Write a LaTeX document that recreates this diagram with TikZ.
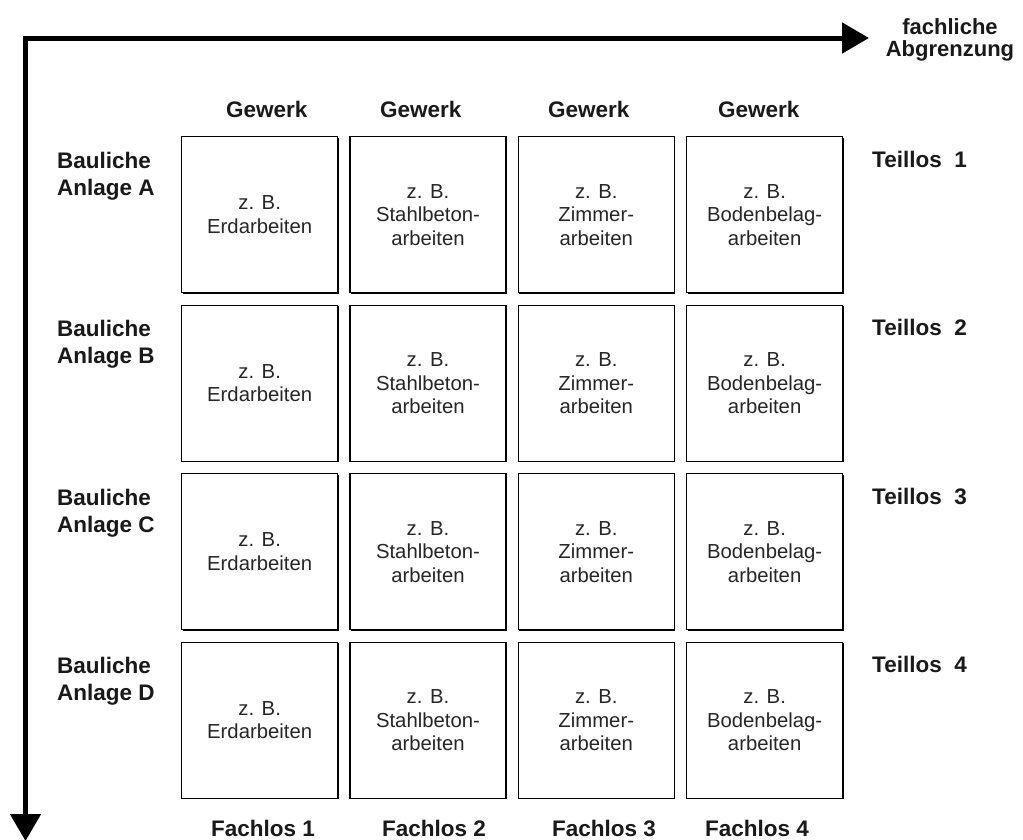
\documentclass[tikz,border=0pt]{standalone}
\usepackage{fontspec}
\setmainfont{Liberation Sans}
\usetikzlibrary{arrows.meta,shadows}
\begin{document}
\begin{tikzpicture}[x=1pt,y=-1pt,
  cell/.style={draw=black, line width=1.3pt, fill=white, minimum width=156pt, minimum height=156pt,
    inner sep=0pt, align=center, font=\fontsize{20.3}{23.5}\selectfont, anchor=north west,
    text=black!85,
    drop shadow={shadow xshift=1.1pt, shadow yshift=-1.1pt, fill=black, opacity=1}},
  lbl/.style={font=\fontsize{22.5}{27}\selectfont\bfseries, inner sep=0pt, anchor=base west, align=left, text=black!90},
  axis/.style={line width=5pt, line join=miter, {Triangle[length=27pt,width=30pt]}-{Triangle[length=27pt,width=30pt]}}
]
\useasboundingbox (0,0) rectangle (1023,839);
% axes
\coordinate (c) at (25.5,38);
\coordinate (h) at (869,38);
\coordinate (v) at (25.5,841);
\draw[axis] (h) -- (c) -- (v);
\node[lbl, anchor=base, align=center, font=\fontsize{22}{21.5}\selectfont\bfseries] (title) at (950,56) {fachliche\\Abgrenzung};
% column headers
\node[lbl] (g1) at (226,117) {Gewerk};
\node[lbl] (g2) at (380,117) {Gewerk};
\node[lbl] (g3) at (548,117) {Gewerk};
\node[lbl] (g4) at (718,117) {Gewerk};
% footers
\node[lbl] (f1) at (211,836) {Fachlos 1};
\node[lbl] (f2) at (382,836) {Fachlos 2};
\node[lbl] (f3) at (552,836) {Fachlos 3};
\node[lbl] (f4) at (705,836) {Fachlos 4};
% rows
\foreach \j/\L in {0/A,1/B,2/C,3/D}{
  \pgfmathsetmacro{\yy}{136+168.5*\j}
  \pgfmathtruncatemacro{\n}{\j+1}
  \node[lbl] (r\n) at (57,\yy+59) {Bauliche\\Anlage \L};
  \node[lbl] (t\n) at (872,\yy+31) {Teillos\ \ \n};
  \node[cell] (b\n1) at (181,\yy) {z. B.\\Erdarbeiten};
  \node[cell] (b\n2) at (349.3,\yy) {z. B.\\Stahlbeton-\\arbeiten};
  \node[cell] (b\n3) at (517.6,\yy) {z. B.\\Zimmer-\\arbeiten};
  \node[cell] (b\n4) at (686,\yy) {z. B.\\Bodenbelag-\\arbeiten};
}
\end{tikzpicture}
\end{document}
